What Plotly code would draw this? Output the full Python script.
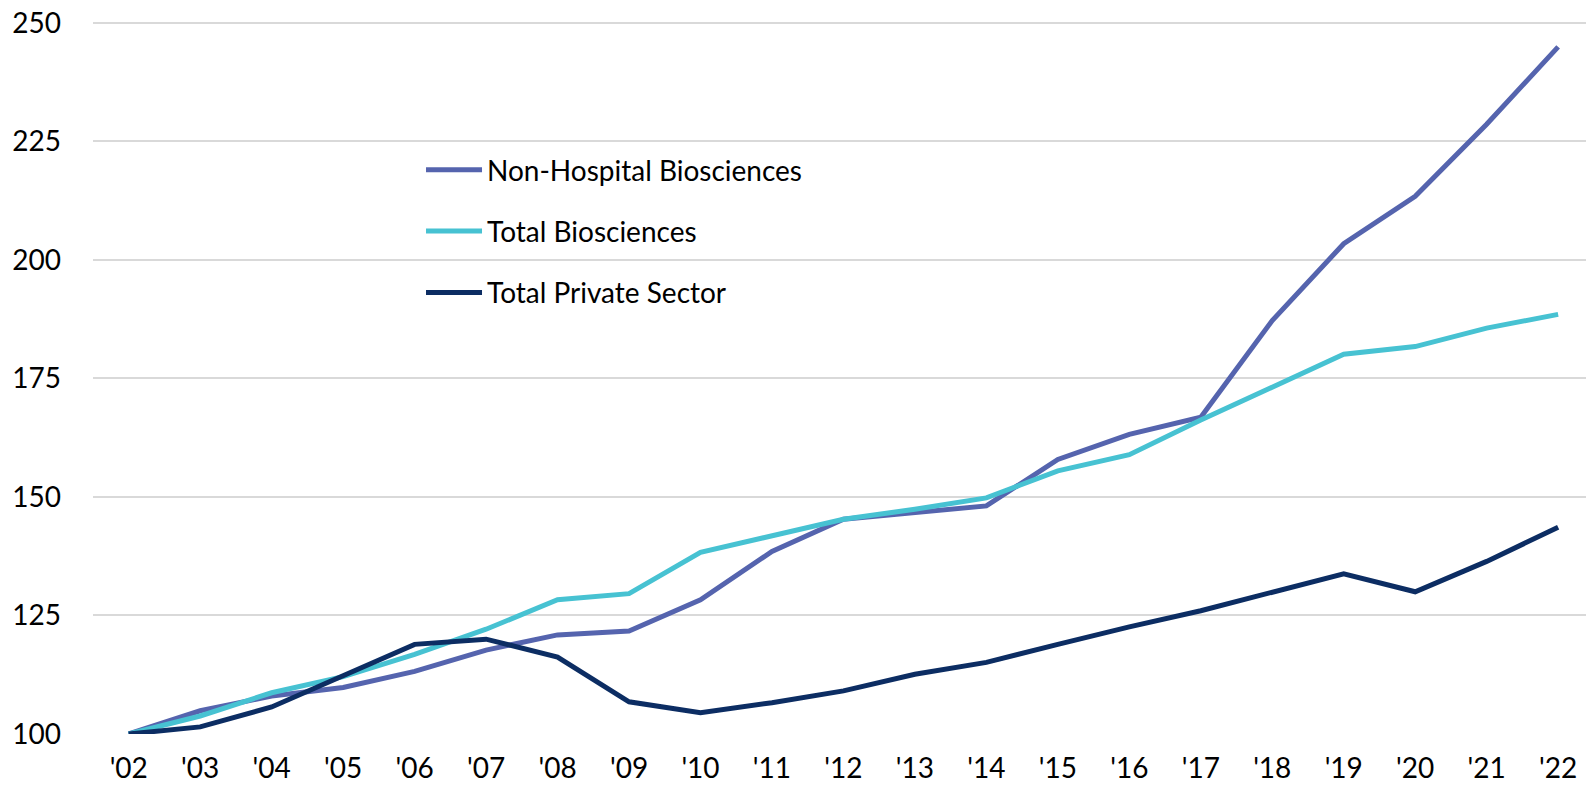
import plotly.graph_objects as go

years = ["'02", "'03", "'04", "'05", "'06", "'07", "'08", "'09", "'10", "'11", "'12",
         "'13", "'14", "'15", "'16", "'17", "'18", "'19", "'20", "'21", "'22"]
non_hospital = [100, 104.9, 108.0, 109.8, 113.2, 117.7, 120.9, 121.7, 128.3, 138.5, 145.3,
                146.8, 148.1, 157.9, 163.2, 166.8, 187.2, 203.4, 213.4, 228.6, 244.9]
total_bio = [100, 103.8, 108.7, 112.1, 116.8, 122.1, 128.3, 129.6, 138.3, 141.9, 145.3,
             147.4, 149.8, 155.5, 158.9, 166.2, 173.1, 180.1, 181.7, 185.6, 188.5]
total_private = [100, 101.5, 105.7, 112.3, 118.9, 120.0, 116.2, 106.8, 104.5, 106.6, 109.1,
                 112.6, 115.1, 118.9, 122.6, 126.0, 130.0, 133.8, 130.0, 136.4, 143.6]
y_ticks = [100, 125, 150, 175, 200, 225, 250]

series = [
    ("Non-Hospital Biosciences", non_hospital, "#5564AE"),
    ("Total Biosciences", total_bio, "#47C2D2"),
    ("Total Private Sector", total_private, "#0C2D63"),
]

x_idx = list(range(len(years)))
fig = go.Figure()
for i, (name, vals, color) in enumerate(series):
    fig.add_trace(go.Scatter(
        x=x_idx, y=vals, name=name, mode="lines",
        line=dict(color=color, width=5),
        legendgroup=f"g{i}",
    ))

font_family = "Lato, 'Open Sans', sans-serif"
fig.update_layout(
    width=1586, height=791,
    margin=dict(l=93, r=0, t=18, b=57),
    paper_bgcolor="white", plot_bgcolor="white",
    font=dict(family=font_family, size=28, color="#000000"),
    showlegend=True,
    legend=dict(
        x=0.2197, y=0.8226, xanchor="left", yanchor="top",
        bgcolor="rgba(0,0,0,0)", borderwidth=0,
        font=dict(size=28, color="#000000"),
        tracegroupgap=22, itemwidth=56,
    ),
    xaxis=dict(
        tickmode="array", tickvals=x_idx, ticktext=years,
        range=[-0.5, 20.39], showgrid=False, zeroline=False,
        showline=False, ticks="", ticklabelstandoff=15, automargin=False,
        tickfont=dict(size=28),
    ),
    yaxis=dict(
        range=[100, 251], tickvals=y_ticks, showgrid=True,
        gridcolor="#D9D9D9", gridwidth=2, zeroline=False,
        showline=False, ticks="", ticklabelstandoff=31, automargin=False,
        ticklabeloverflow="allow",
        tickfont=dict(size=28),
    ),
)

fig.write_html("out.html", config={"displayModeBar": False},
               post_script="document.body.style.margin='0px';")
